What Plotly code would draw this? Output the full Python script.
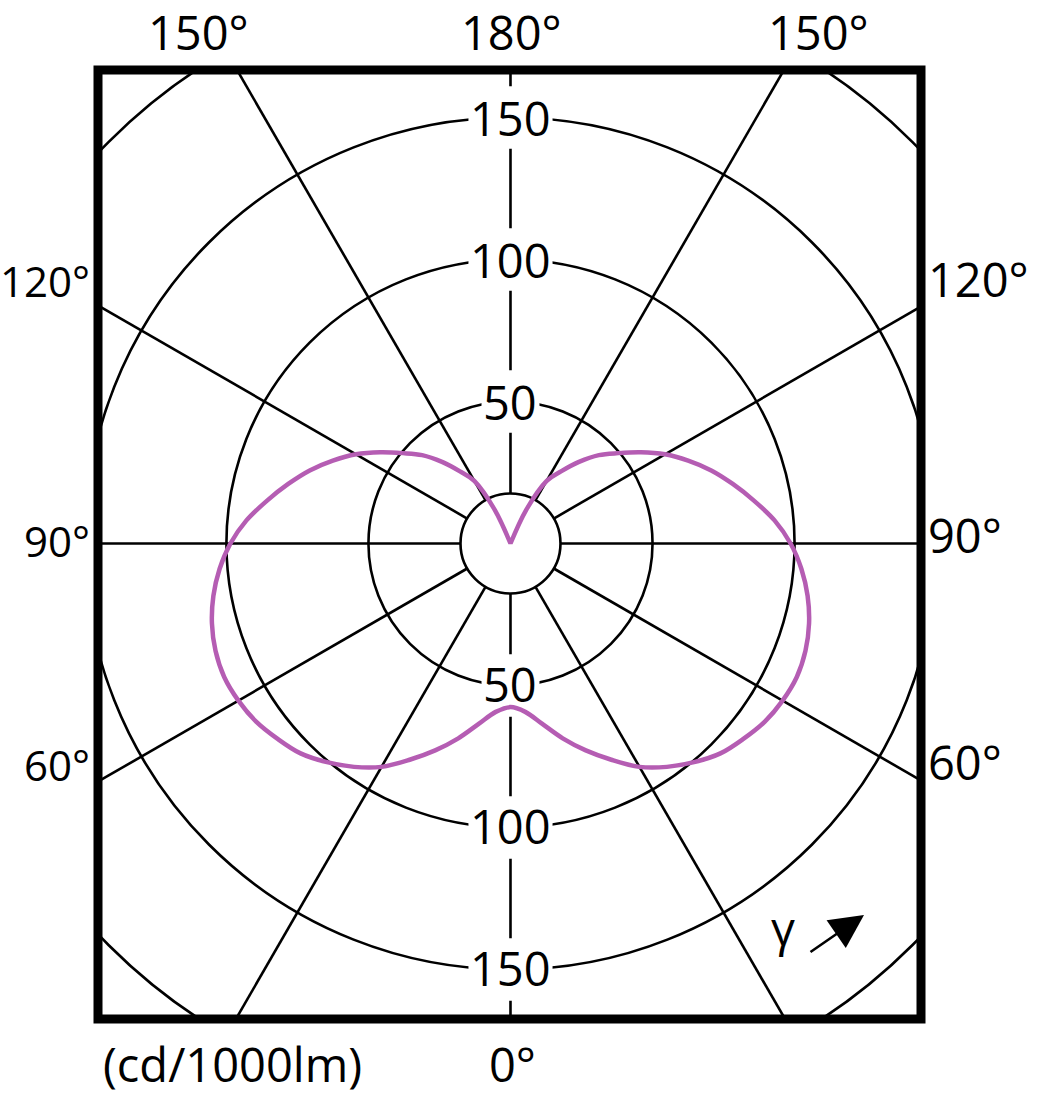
import numpy as np
import plotly.graph_objects as go

# luminous intensity distribution (cd/1000lm), symmetric plane
gamma_deg = [0, 5, 10, 15, 20, 25, 30, 35, 40, 45, 50, 55, 60, 65, 70, 75, 80, 85, 90,
             95, 100, 105, 110, 115, 120, 125, 130, 135, 140, 145, 150, 155, 160, 165,
             170, 175, 180]
intensity = [57.6, 59.5, 64.5, 71, 77.5, 84, 90.8, 96, 100.5, 104.5, 107, 109.3, 110.6,
             111.2, 110.5, 108.8, 106.2, 102.8, 98.6, 93.3, 87, 81, 75.2, 69, 62.8, 56,
             49.5, 44, 37.5, 31, 25.5, 13, 0, 0, 0, 0, 0]

ring_values = [50, 100, 150, 200]
ring_labels = ["50", "100", "150"]
spoke_angles = [0, 30, 60, 90, 120, 150, 180, 210, 240, 270, 300, 330]

top_labels = ["150°", "180°", "150°"]
side_labels = ["120°", "90°", "60°"]
bottom_labels = ["(cd/1000lm)", "0°"]

HUB = 17.6
FONT = "Open Sans"
CURVE_COLOR = "#B55DB3"

W, H = 1055, 1096
L, R, T, B = 98, 134, 70, 77


def paper(px, py):
    return (px - L) / (W - L - R), (H - B - py) / (H - T - B)


def label(txt, px, py, size=47, xanchor="center"):
    x, y = paper(px, py)
    return dict(x=x, y=y, xref="paper", yref="paper", text=txt, showarrow=False,
                xanchor=xanchor, yanchor="middle",
                font=dict(family=FONT, size=size, color="black"))


g = np.radians(gamma_deg)
r = np.array(intensity)
# right half going up, then the mirrored left half coming back down
cx = np.concatenate([r * np.sin(g), -(r * np.sin(g))[::-1]])
cy = np.concatenate([-r * np.cos(g), (-r * np.cos(g))[::-1]])

fig = go.Figure()

shapes = []
grid = dict(color="black", width=2.6)
for rv in [HUB] + ring_values:
    shapes.append(dict(type="circle", xref="x", yref="y", x0=-rv, x1=rv, y0=-rv, y1=rv,
                       line=grid, layer="below"))
for a in spoke_angles:
    t = np.radians(a)
    shapes.append(dict(type="line", xref="x", yref="y",
                       x0=HUB * np.sin(t), y0=-HUB * np.cos(t),
                       x1=320 * np.sin(t), y1=-320 * np.cos(t),
                       line=grid, layer="below"))
# white gaps behind the ring value labels
for v, txt in zip(ring_values, ring_labels):
    hw = 10.2 if len(txt) == 2 else 14.8
    for sgn in (1, -1):
        shapes.append(dict(type="rect", xref="x", yref="y", x0=-hw, x1=hw,
                           y0=sgn * v - 11, y1=sgn * v + 11,
                           fillcolor="white", line=dict(width=0), layer="below"))
shapes.append(dict(type="rect", xref="paper", yref="paper", x0=0, x1=1, y0=0, y1=1,
                   line=dict(color="black", width=9), layer="above"))

fig.add_trace(go.Scatter(x=cx, y=cy, mode="lines",
                         line=dict(color=CURVE_COLOR, width=4.5, shape="spline", smoothing=1.0),
                         hoverinfo="skip", showlegend=False))

annotations = []
for v, txt in zip(ring_values, ring_labels):
    for sgn in (1, -1):
        annotations.append(dict(x=0, y=sgn * v, xref="x", yref="y", text=txt,
                                showarrow=False, xanchor="center", yanchor="middle",
                                yshift=-1 if sgn > 0 else 2,
                                font=dict(family=FONT, size=47, color="black")))

for txt, px in zip(top_labels, [198, 511, 818]):
    annotations.append(label(txt, px, 32))
for txt, py_l, py_r in zip(side_labels, [281, 540, 765], [279, 535, 762]):
    annotations.append(label(txt, 92, py_l, size=42, xanchor="right"))
    annotations.append(label(txt, 926, py_r, xanchor="left"))
for txt, px in zip(bottom_labels, [232, 512]):
    annotations.append(label(txt, px, 1064))
annotations.append(label("γ", 783, 928))

x, y = paper(864, 915)
annotations.append(dict(x=x, y=y, xref="paper", yref="paper", text="", showarrow=True,
                        ax=-55, ay=38, arrowhead=2, arrowsize=2.6, arrowwidth=2.6,
                        arrowcolor="black"))

fig.update_layout(
    width=W, height=H,
    margin=dict(l=L, r=R, t=T, b=B),
    paper_bgcolor="white", plot_bgcolor="white",
    xaxis=dict(range=[-145.2, 144.5], visible=False, fixedrange=True),
    yaxis=dict(range=[-167.4, 166.7], visible=False, fixedrange=True),
    shapes=shapes,
    annotations=annotations,
    showlegend=False,
)

# drop the browser's default page margin so the figure starts at the window corner
fig.write_html("out.html", config={"displayModeBar": False},
               post_script="document.body.style.margin = '0';")
